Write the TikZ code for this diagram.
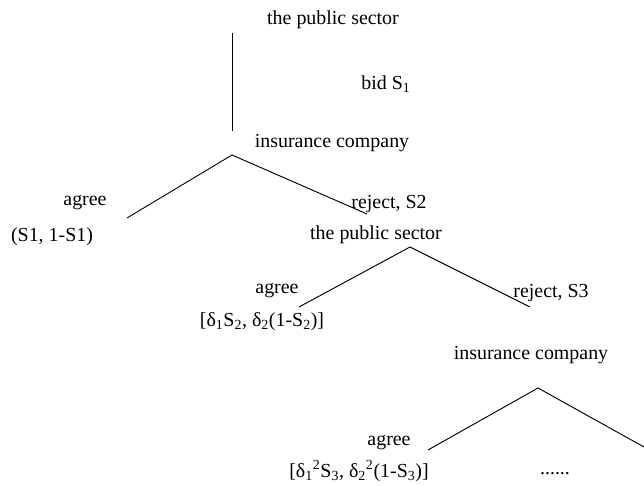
\documentclass[tikz,border=0pt]{standalone}
\usepackage{fontspec}
\setmainfont{Liberation Serif}
\usetikzlibrary{positioning}
\tikzset{
  branch/.style={line width=0.8pt},
  lbl/.style={inner sep=1pt},
}
\begin{document}
\begin{tikzpicture}[x=0.03cm,y=-0.03cm,every node/.style={font=\fontsize{17}{20}\selectfont}]
  \useasboundingbox (0,0) rectangle (644,486);

  % first move: the public sector bids
  \node[lbl] (ps1) at (333,20) {the public sector};
  \coordinate (top) at (232,33);
  \coordinate (ictop) at (232,131);
  \draw[branch] (top) -- (ictop);
  \node[lbl] (bid) at (386,84) {bid S\textsubscript{1}};

  % insurance company answers
  \node[lbl] (ic1) at (332,143) {insurance company};
  \coordinate (apex1) at (232,155);
  \coordinate (agreeend1) at (127,218);
  \coordinate (rejend1) at (367,214);
  \draw[branch] (agreeend1) -- (apex1) -- (rejend1);
  \node[lbl] (agree1) at (85,203) {agree};
  \node[lbl] (pay1) at (52,237) {(S1, 1-S1)};
  \node[lbl] (rej1) at (389,204) {reject, S2};

  % the public sector answers
  \node[lbl] (ps2) at (376,235) {the public sector};
  \coordinate (apex2) at (410,247);
  \coordinate (agreeend2) at (299,307);
  \coordinate (rejend2) at (530,307);
  \draw[branch] (agreeend2) -- (apex2) -- (rejend2);
  \node[lbl] (agree2) at (277,291) {agree};
  \node[lbl] (pay2) at (262,322) {[δ\textsubscript{1}S\textsubscript{2}, δ\textsubscript{2}(1-S\textsubscript{2})]};
  \node[lbl] (rej2) at (551,293) {reject, S3};

  % insurance company again
  \node[lbl] (ic2) at (531,355) {insurance company};
  \coordinate (apex3) at (538,388);
  \coordinate (agreeend3) at (428,450);
  \coordinate (rejend3) at (644,447);
  \draw[branch] (agreeend3) -- (apex3) -- (rejend3);
  \node[lbl] (agree3) at (389,443) {agree};
  \node[lbl] (pay3) at (359,471) {[δ\textsubscript{1}\textsuperscript{2}S\textsubscript{3}, δ\textsubscript{2}\textsuperscript{2}(1-S\textsubscript{3})]};
  \node[lbl] (dots) at (555,474) {......};
\end{tikzpicture}
\end{document}
